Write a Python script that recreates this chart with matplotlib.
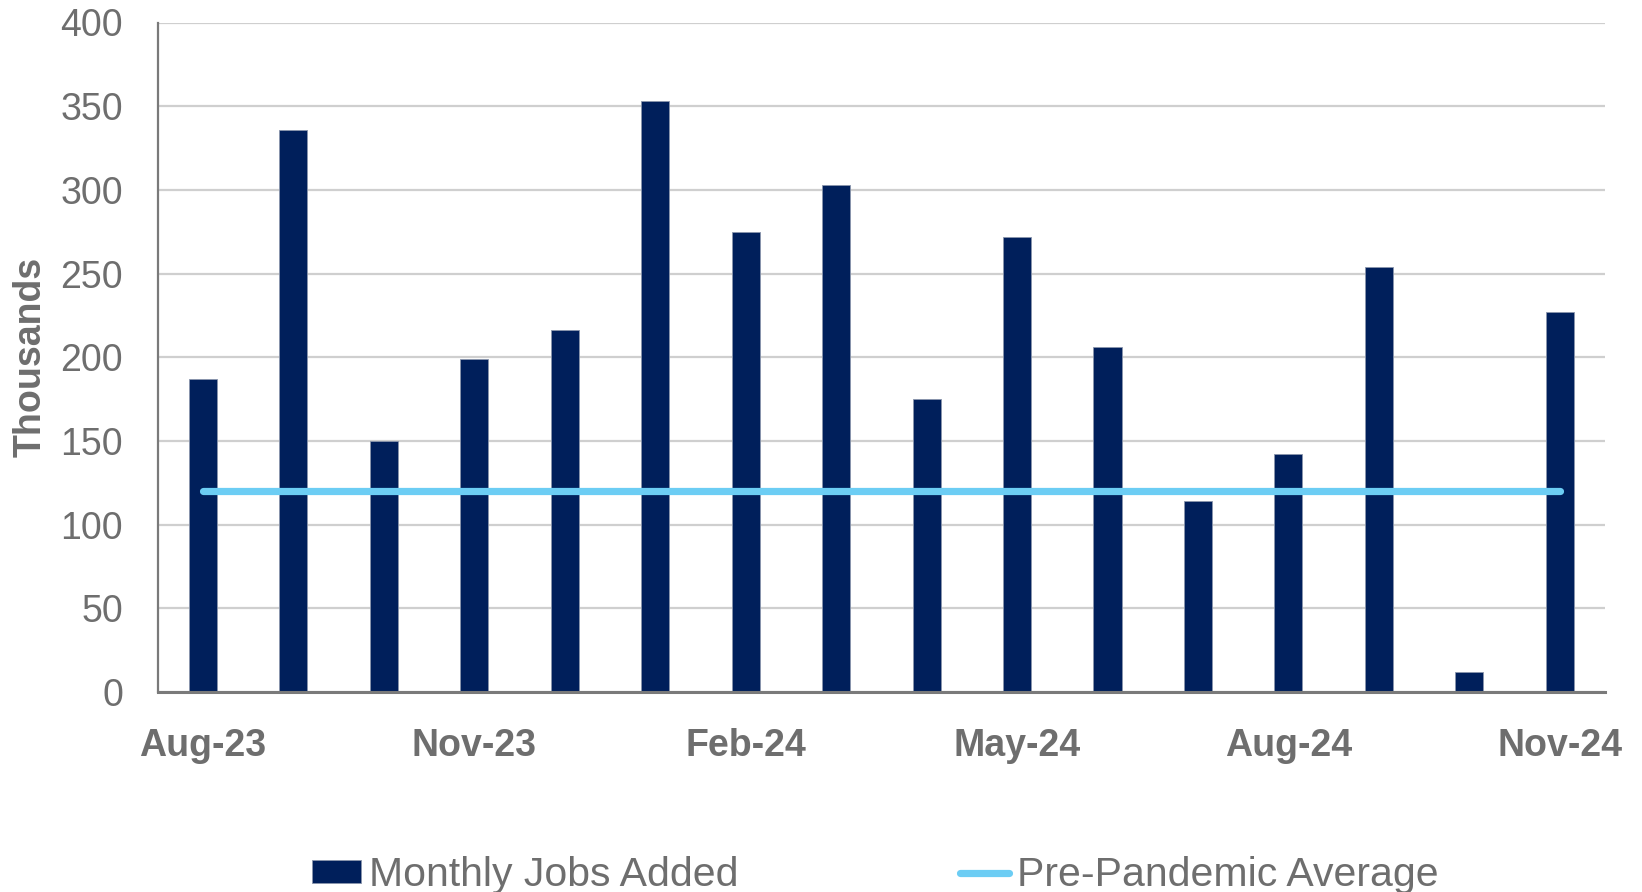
import matplotlib
matplotlib.use("Agg")
import numpy as np
import matplotlib.pyplot as plt

# Monthly payroll changes, thousands
months = ['Aug-23', 'Sep-23', 'Oct-23', 'Nov-23', 'Dec-23', 'Jan-24', 'Feb-24', 'Mar-24',
          'Apr-24', 'May-24', 'Jun-24', 'Jul-24', 'Aug-24', 'Sep-24', 'Oct-24', 'Nov-24']
jobs_added = [187, 336, 150, 199, 216, 353, 275, 303, 175, 272, 206, 114, 142, 254, 12, 227]
pre_pandemic_avg = [120] * len(months)
shown_ticks = ['Aug-23', 'Nov-23', 'Feb-24', 'May-24', 'Aug-24', 'Nov-24']
y_ticks = [0, 50, 100, 150, 200, 250, 300, 350, 400]

navy = '#001f5b'
sky = '#6ccdf4'
grey_txt = '#6e6e6e'

plt.rcParams['font.family'] = ['Liberation Sans', 'DejaVu Sans']

fig = plt.figure(figsize=(16.42, 8.92), dpi=100)
ax = fig.add_axes([157.7 / 1642, (892 - 692) / 892, (1605 - 157.7) / 1642, (692 - 22.5) / 892])

x = np.arange(len(months))
bars = ax.bar(x, jobs_added, width=0.31, color=navy, edgecolor='#8a96ad', linewidth=0.6,
              zorder=2)
line, = ax.plot(x, pre_pandemic_avg, color=sky, linewidth=5.2, solid_capstyle='round',
                zorder=3)

ax.set_xlim(-0.5, len(months) - 0.5)
ax.set_ylim(0, 400)
ax.set_yticks(y_ticks)
ax.set_yticklabels([str(v) for v in y_ticks], fontsize=27, color=grey_txt)
tick_pos = [months.index(m) for m in shown_ticks]
ax.set_xticks(tick_pos)
ax.set_xticklabels(shown_ticks, fontsize=27, fontweight='bold', color=grey_txt)
ax.tick_params(axis='both', length=0)
ax.tick_params(axis='y', pad=25)
ax.tick_params(axis='x', pad=26)

ax.grid(axis='y', color='#cfcfcf', linewidth=1.6, zorder=0)
ax.set_axisbelow(True)
for s in ['top', 'right']:
    ax.spines[s].set_visible(False)
ax.spines['left'].set_color('#7a7a7a')
ax.spines['left'].set_linewidth(1.6)
ax.spines['bottom'].set_color('#7a7a7a')
ax.spines['bottom'].set_linewidth(2.2)

fig.text(31 / 1642, (892 - 357) / 892, 'Thousands', rotation=90, fontsize=27,
         fontweight='bold', color=grey_txt, ha='center', va='center')

leg = fig.legend([bars, line], ['Monthly Jobs Added', 'Pre-Pandemic Average'],
                 loc='center left', bbox_to_anchor=(312 / 1642, (892 - 875) / 892),
                 ncol=2, frameon=False, fontsize=29.5, borderpad=0, borderaxespad=0,
                 handlelength=1.2, handleheight=0.5, handletextpad=0.2, columnspacing=5.4)
for t in leg.get_texts():
    t.set_color(grey_txt)

fig.savefig('out.png', dpi=100)
